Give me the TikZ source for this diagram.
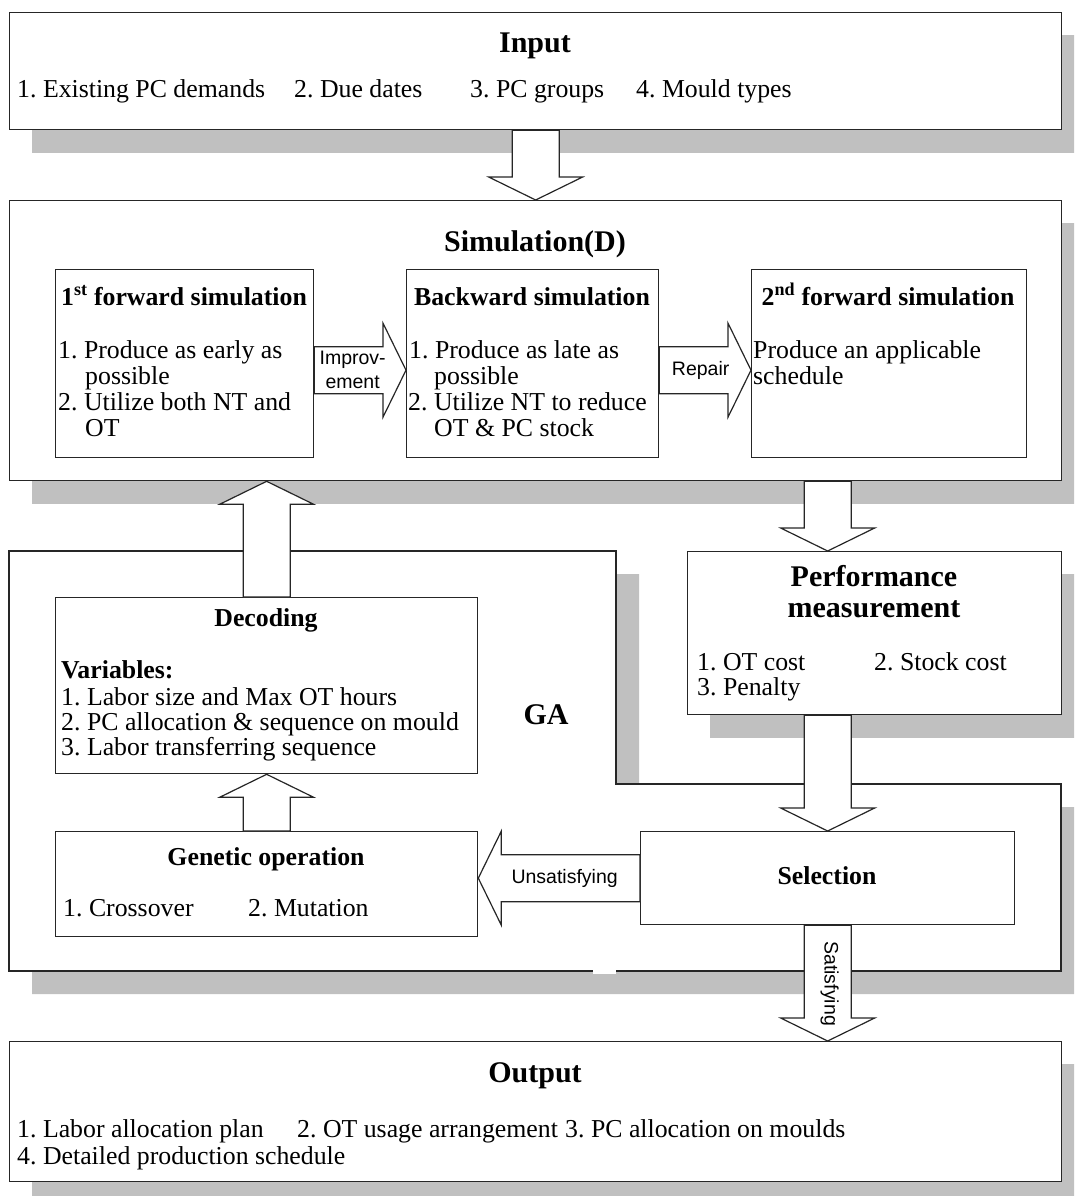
\documentclass[tikz,border=0pt]{standalone}
\usepackage{fontspec}
\setmainfont{Liberation Serif}
\newfontfamily\labelfont{Liberation Sans}
\usetikzlibrary{calc}
\pgfdeclarelayer{bg}
\pgfsetlayers{bg,main}
\definecolor{edge}{HTML}{262626}
\definecolor{shadowgray}{HTML}{C0C0C0}
\frenchspacing

% block arrow from #1 to #2, head base named #3-h
\newcommand\blockarrow[3]{%
  \coordinate (#3-h) at ($(#2)!23pt!(#1)$);
  \draw[arrowline]
    ($(#1)!23.5pt!90:(#2)$) -- ($(#3-h)!23.5pt!90:(#2)$) --
    ($(#3-h)!47pt!90:(#2)$) -- (#2) -- ($(#3-h)!47pt!-90:(#2)$) --
    ($(#3-h)!23.5pt!-90:(#2)$) -- ($(#1)!23.5pt!-90:(#2)$) -- cycle;
}

\begin{document}
\begin{tikzpicture}[x=1pt,y=-1pt,
  box/.style={draw=edge, line width=1.3pt, fill=white, rectangle,
    inner sep=0pt, anchor=north west},
  arrowline/.style={draw=edge, line width=1.2pt, fill=white, line join=miter},
  dropshadow/.style={fill=shadowgray, draw=none},
  title/.style={font=\fontsize{30}{32}\selectfont\bfseries, inner sep=0pt, anchor=base},
  subtitle/.style={font=\fontsize{25.8}{27}\selectfont\bfseries, inner sep=0pt, anchor=base},
  body/.style={font=\fontsize{25.8}{26}\selectfont, inner sep=0pt, anchor=base west},
  tag/.style={font=\labelfont\fontsize{19.5}{24}\selectfont, inner sep=0pt, align=center},
]
\useasboundingbox (0,0) rectangle (1074,1196);

% ---------------- GA region ----------------
\draw[draw=edge, line width=1.3pt, fill=white]
  (9,551) -- (616,551) -- (616,784) -- (1061,784) -- (1061,971) -- (9,971) -- cycle;
\fill[white] (593,968) rectangle (616,974);
\node[title] (ga) at (546,724) {GA};

% ---------------- main boxes ----------------
\node[box, minimum width=1052pt, minimum height=117pt] (in)  at (9,12)   {};
\node[box, minimum width=1052pt, minimum height=280pt] (sim) at (9,200)  {};
\node[box, minimum width=374pt,  minimum height=163pt] (perf) at (687,551) {};
\node[box, minimum width=1052pt, minimum height=140pt] (out) at (9,1041) {};

% inner boxes
\node[box, minimum width=258pt, minimum height=188pt] (b1) at (55,269)  {};
\node[box, minimum width=252pt, minimum height=188pt] (b2) at (406,269) {};
\node[box, minimum width=275pt, minimum height=188pt] (b3) at (751,269) {};
\node[box, minimum width=422pt, minimum height=176pt] (dec) at (55,597) {};
\node[box, minimum width=422pt, minimum height=105pt] (gen) at (55,831) {};
\node[box, minimum width=374pt, minimum height=93pt]  (sel) at (640,831) {};

% ---------------- shadows ----------------
\begin{pgfonlayer}{bg}
  \clip (0,0) rectangle (1074,1196);
  \foreach \n in {in,sim,perf,out}
    \fill[dropshadow] ($(\n.north west)+(23,23)$) rectangle ($(\n.south east)+(23,23)$);
  \fill[dropshadow] (32,574) -- (639,574) -- (639,807) -- (1084,807) -- (1084,994) -- (32,994) -- cycle;
\end{pgfonlayer}

% ---------------- texts ----------------
\node[title] (inT) at (535,53) {Input};
\node[body] (in1) at (17,98)  {1. Existing PC demands};
\node[body] (in2) at (294,98) {2. Due dates};
\node[body] (in3) at (470,98) {3. PC groups};
\node[body] (in4) at (636,98) {4. Mould types};

\node[title] (simT) at (535,251) {Simulation(D)};

\node[subtitle] (b1T) at (184,305) {1\textsuperscript{st} forward simulation};
\node[body] (b1a) at (58,358) {1. Produce as early as};
\node[body] (b1b) at (85,384) {possible};
\node[body] (b1c) at (58,410) {2. Utilize both NT and};
\node[body] (b1d) at (85,436) {OT};

\node[subtitle] (b2T) at (532,305) {Backward simulation};
\node[body] (b2a) at (409,358) {1. Produce as late as};
\node[body] (b2b) at (434,384) {possible};
\node[body] (b2c) at (408,410) {2. Utilize NT to reduce};
\node[body] (b2d) at (434,436) {OT \& PC stock};

\node[subtitle] (b3T) at (888,305) {2\textsuperscript{nd} forward simulation};
\node[body] (b3a) at (753,358) {Produce an applicable};
\node[body] (b3b) at (753,384) {schedule};

\node[title] (perfT1) at (874,586) {Performance};
\node[title] (perfT2) at (874,617) {measurement};
\node[body] (pf1) at (697,670) {1. OT cost};
\node[body] (pf2) at (874,670) {2. Stock cost};
\node[body] (pf3) at (697,695) {3. Penalty};

\node[subtitle] (decT) at (266,626) {Decoding};
\node[body, font=\fontsize{25.8}{26}\selectfont\bfseries] (decV) at (61,678) {Variables:};
\node[body] (dc1) at (61,705) {1. Labor size and Max OT hours};
\node[body] (dc2) at (61,730) {2. PC allocation \& sequence on mould};
\node[body] (dc3) at (61,755) {3. Labor transferring sequence};

\node[subtitle] (genT) at (266,865) {Genetic operation};
\node[body] (gn1) at (63,916)  {1. Crossover};
\node[body] (gn2) at (248,916) {2. Mutation};

\node[subtitle] (selT) at (827,884) {Selection};

\node[title] (outT) at (535,1082) {Output};
\node[body] (ou1) at (17,1137)  {1. Labor allocation plan};
\node[body] (ou2) at (297,1137) {2. OT usage arrangement};
\node[body] (ou3) at (565,1137) {3. PC allocation on moulds};
\node[body] (ou4) at (17,1164)  {4. Detailed production schedule};

% ---------------- block arrows ----------------
\blockarrow{in.south}{sim.north}{a1}
\coordinate (a2s) at (dec.north);
\coordinate (a2e) at (dec.north |- sim.south);
\blockarrow{a2s}{a2e}{a2}
\coordinate (a3s) at (sel.north |- sim.south);
\coordinate (a3e) at (sel.north |- perf.north);
\blockarrow{a3s}{a3e}{a3}
\coordinate (a4s) at (sel.north |- perf.south);
\blockarrow{a4s}{sel.north}{a4}
\coordinate (a5e) at (sel.south |- out.north);
\blockarrow{sel.south}{a5e}{a5}
\blockarrow{gen.north}{dec.south}{a6}
\coordinate (a7e) at (sel.west -| gen.east);
\blockarrow{sel.west}{a7e}{a7}
\coordinate (a8s) at ($(b1.east)+(0,6.5)$);
\coordinate (a8e) at (a8s -| b2.west);
\blockarrow{a8s}{a8e}{a8}
\coordinate (a9s) at ($(b2.east)+(0,6.5)$);
\coordinate (a9e) at (a9s -| b3.west);
\blockarrow{a9s}{a9e}{a9}

% arrow labels
\node[tag] (impL) at ($($(a8s)!0.5!(a8-h)$)+(4,0)$) {Improv-\\ement};
\node[tag] (repL) at ($($(a9s)!0.5!(a9-h)$)+(7,0)$) {Repair};
\node[tag] (unsL) at ($($(sel.west)!0.5!(a7-h)$)+(-6,0)$) {Unsatisfying};
\node[tag, rotate=-90] (satL) at ($($(sel.south)!0.5!(a5-h)$)+(2,12)$) {Satisfying};
\end{tikzpicture}
\end{document}
